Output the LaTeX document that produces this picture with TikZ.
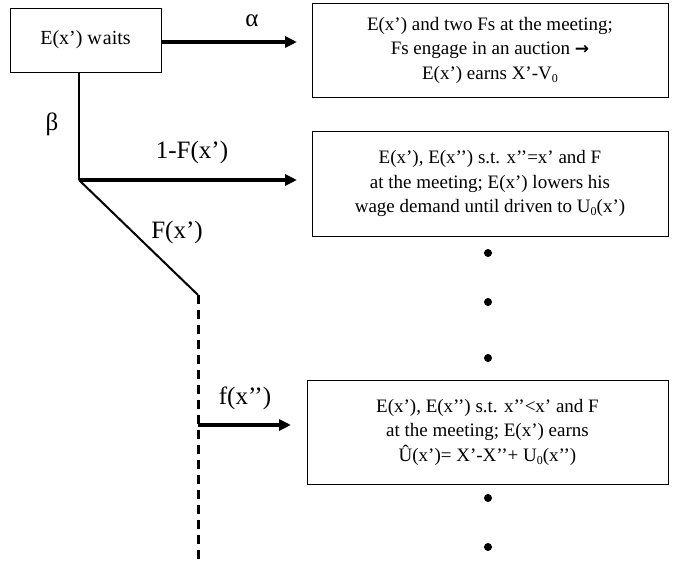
\documentclass[tikz,border=0pt]{standalone}
\usepackage{fontspec}
\setmainfont{Liberation Serif}
\newfontfamily\arrowfont{DejaVu Sans}
\newcommand{\subzero}{\raisebox{-0.35ex}{\fontsize{12}{12}\selectfont 0}}
\usetikzlibrary{arrows.meta}
\begin{document}
\begin{tikzpicture}[x=1pt,y=-1pt,
  box/.style={draw, line width=0.9pt, inner sep=0pt, align=center, font=\fontsize{19}{24.5}\selectfont},
  arr/.style={line width=3.2pt, -{Triangle[length=12pt,width=11pt]}},
  lbl/.style={font=\fontsize{25}{26}\selectfont, inner sep=0pt},
  dot/.style={circle, fill, inner sep=0pt, minimum size=8pt}]
\useasboundingbox (0,0) rectangle (673,561);
\node[box, minimum width=151pt, minimum height=64pt, font=\fontsize{20}{24}\selectfont] (wait) at (85.5,40) {E(x’) w\kern1pt aits};
\node[box, minimum width=356pt, minimum height=94pt] (b1) at (490,50) {E(x’) and two Fs at the meeting;\\Fs engage in an auction {\arrowfont\bfseries\fontsize{17}{24.5}\selectfont→}\\E(x’) earns X’-V\subzero};
\node[box, minimum width=356pt, minimum height=105pt] (b2) at (490,183.5) {E(x’), E(x’’) s.t. x’’=x’ and F\\at the meeting; E(x’) lowers his\\wage demand until driven to U\subzero(x’)};
\node[box, minimum width=361pt, minimum height=104pt] (b3) at (487.5,432) {E(x’), E(x’’) s.t. x’’<x’ and F\\at the meeting; E(x’) earns\\Û(x’)= X’-X’’+ U\subzero(x’’)};
\coordinate (top) at (79,72);
\coordinate (j1) at (79,180);
\coordinate (j2) at (198,295);
\coordinate (j3) at (198,425);
\coordinate (bot) at (198,561);
\coordinate (t1) at (297,42);
\coordinate (t2) at (297,180);
\coordinate (t3) at (291,425);
\draw[arr] (wait.east |- t1) -- (t1);
\draw[line width=2.4pt] (top) -- (j1);
\draw[arr] (j1) -- (t2);
\draw[line width=2pt] (j1) -- (j2);
\draw[line width=3pt, dash pattern=on 9pt off 6pt] (j2) -- (bot);
\draw[arr] (j3) -- (t3);
\node[lbl] (la) at (252,21) {α};
\node[lbl] (lb) at (52,124) {β};
\node[lbl] (l1) at (192,152) {1-F(x’)};
\node[lbl] (l2) at (177,232) {F(x’)};
\node[lbl] (l3) at (245,398) {f(x’’)};
\node[dot] (d1) at (488,253) {};
\node[dot] (d2) at (488,302) {};
\node[dot] (d3) at (488,358) {};
\node[dot] (d4) at (488,498) {};
\node[dot] (d5) at (488,547) {};
\end{tikzpicture}
\end{document}
